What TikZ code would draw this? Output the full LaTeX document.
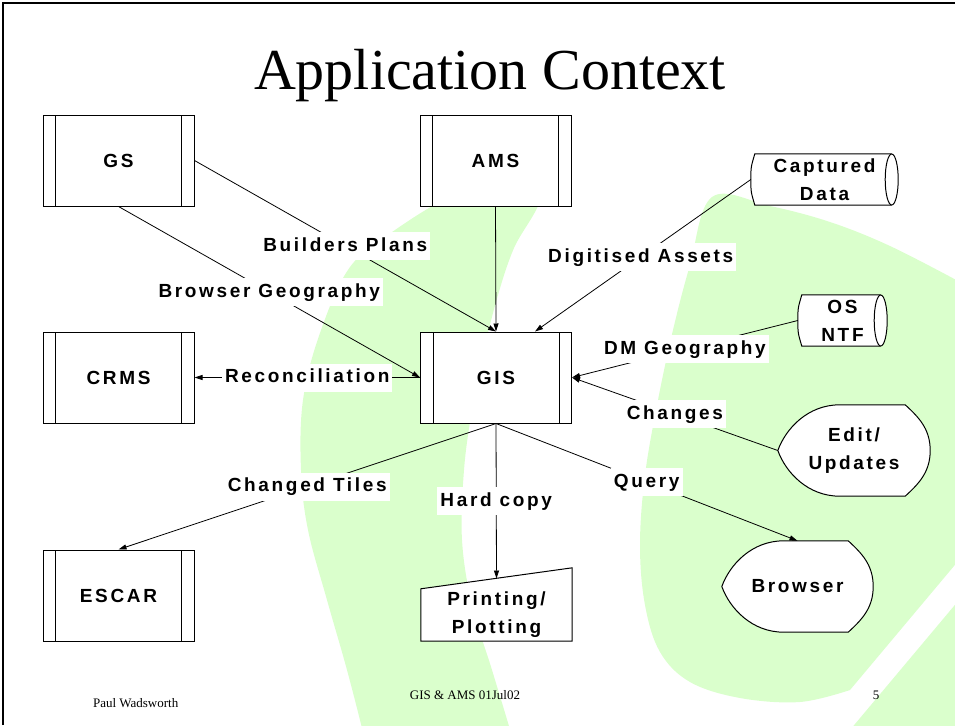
\documentclass[tikz,border=0pt]{standalone}
\usepackage{fontspec}
\setmainfont{Liberation Serif}
\newfontfamily\lblfont[LetterSpace=14]{Liberation Sans Bold}
\usetikzlibrary{arrows.meta,calc}
\definecolor{leaf}{RGB}{218,255,204}
\pgfdeclarelayer{tint}
\pgfdeclarelayer{outlines}
\pgfsetlayers{tint,outlines,main}

\begin{document}
\begin{tikzpicture}[x=1pt,y=-1pt,
  lbltext/.style={font=\lblfont\fontsize{19}{28}\selectfont, align=center},
  procbox/.style={draw, fill=white, line width=1pt, minimum width=151pt,
    minimum height=91pt, inner sep=0pt, lbltext,
    path picture={
      \draw[line width=1pt] ([xshift=12.5pt]path picture bounding box.north west)
        -- ([xshift=12.5pt]path picture bounding box.south west);
      \draw[line width=1pt] ([xshift=-12.5pt]path picture bounding box.north east)
        -- ([xshift=-12.5pt]path picture bounding box.south east);}},
  shapebox/.style={inner sep=0pt, lbltext},
  shapeline/.style={line width=1pt, draw=black},
  lbl/.style={fill=white, inner xsep=3pt, inner ysep=5pt, text height=14pt,
    text depth=4pt, lbltext},
  flow/.style={line width=0.8pt, -{Triangle[length=8pt,width=5pt]}}
]
\useasboundingbox (0,0) rectangle (955,725);

% pale green backdrop figure
\begin{pgfonlayer}{tint}
\begin{scope}
\clip (0,0) rectangle (955,725);
\fill[leaf] plot[smooth cycle, tension=0.6] coordinates {
  (452,196) (395,230) (350,267) (320,333) (303,400) (301,470) (308,530)
  (327,600) (347,670) (365,740) (372,770) (520,770) (513,740) (492,670)
  (472,605) (462,540) (464,470) (472,410) (484,350) (498,295) (514,248)
  (540,196) (500,185)};
\fill[leaf] plot[smooth, tension=0.6] coordinates {
  (850,690) (800,702) (740,698) (690,682) (660,652) (645,605) (640,545)
  (645,475) (658,400) (673,330) (690,265) (712,197) (770,206) (830,222)
  (890,246) (960,282)} -- (980,282) -- (980,535) -- cycle;
\fill[leaf] (980,575) -- (829,755) -- (980,755) -- cycle;
\end{scope}
\end{pgfonlayer}

% slide frame
\draw[line width=2.5pt] (3,725) -- (3,3) -- (955,3);

% title and footer
\node[font=\fontsize{58}{60}\selectfont, anchor=base] (title) at (490,89) {Application Context};
\node[font=\fontsize{13}{15}\selectfont, anchor=base west] (author) at (89.5,707) {Paul Wadsworth};
\node[font=\fontsize{13}{15}\selectfont, anchor=base] (slidetag) at (465,699) {GIS \& AMS 01Jul02};
\node[font=\fontsize{13}{15}\selectfont, anchor=base] (pageno) at (876,699) {5};

% process boxes
\node[procbox] (gs) at (118.5,160.5) {GS};
\node[procbox] (ams) at (495.5,160.5) {AMS};
\node[procbox] (crms) at (118.5,377.5) {CRMS};
\node[procbox] (gis) at (496,377.5) {GIS};
\node[procbox] (escar) at (118.5,595.5) {ESCAR};

% other symbols: text nodes sized to their outlines
\node[shapebox, minimum width=147pt, minimum height=51pt] (cap) at (824.5,179.5) {Captured\\Data};
\node[shapebox, minimum width=89pt, minimum height=51pt] (ntf) at (842.5,320.5) {OS\\NTF};
\node[shapebox, minimum width=152pt, minimum height=91pt] (edit) at (854,450.5) {Edit/\\Updates};
\node[shapebox, minimum width=151pt, minimum height=91pt] (browser) at (797.5,586.5) {Browser};
\node[shapebox, minimum width=151pt, minimum height=52pt] (print) at (496.5,615) {Printing/\\Plotting};

\begin{pgfonlayer}{outlines}
% stored data drums
\foreach \n in {cap,ntf} {
  \fill[white] ($(\n.north west)+(4,0)$) -- ($(\n.north east)+(-6.5,0)$)
    -- ($(\n.south east)+(-6.5,0)$) -- ($(\n.south west)+(4,0)$)
    .. controls ($(\n.west)+(0,12)$) .. (\n.west)
    .. controls ($(\n.west)+(0,-12)$) .. cycle;
  \draw[shapeline] ($(\n.north east)+(-6.5,0)$) -- ($(\n.north west)+(4,0)$)
    .. controls ($(\n.west)+(0,-12)$) .. (\n.west)
    .. controls ($(\n.west)+(0,12)$) .. ($(\n.south west)+(4,0)$)
    -- ($(\n.south east)+(-6.5,0)$);
  \filldraw[shapeline, fill=white] ($(\n.east)+(-6.5,0)$) ellipse [x radius=6.5, y radius=25.5];
}
% display symbols
\foreach \n in {edit,browser} {
  \filldraw[shapeline, fill=white] (\n.west)
    .. controls ($(\n.west)+(8,-22)$) and ($(\n.north west)+(30,0)$) .. ($(\n.north west)+(62,0)$)
    -- ($(\n.north east)+(-25,0)$)
    .. controls ($(\n.north east)+(-12,12)$) and ($(\n.east)+(0,-22)$) .. (\n.east)
    .. controls ($(\n.east)+(0,22)$) and ($(\n.south east)+(-12,-12)$) .. ($(\n.south east)+(-25,0)$)
    -- ($(\n.south west)+(62,0)$)
    .. controls ($(\n.south west)+(30,0)$) and ($(\n.west)+(8,22)$) .. cycle;
}
% manual input symbol
\filldraw[shapeline, fill=white] (print.north west) -- ($(print.north east)+(0,-21)$)
  -- (print.south east) -- (print.south west) -- cycle;
\end{pgfonlayer}

% data flows
\draw[flow] (gs.east) -- node[lbl]{Builders Plans} (gis.north);
\draw[flow] (ams.south) -- (gis.north);
\draw[flow] (gs.south) -- node[lbl]{Browser Geography} (gis.west);
\draw[flow] (gis.west) -- node[lbl]{Reconciliation} (crms.east);
\draw[flow] (cap.west) -- node[lbl,pos=0.51]{Digitised Assets} ([xshift=39pt]gis.north);
\draw[flow] (ntf.west) -- node[lbl]{DM Geography} (gis.east);
\draw[flow] (edit.west) -- node[lbl]{Changes} (gis.east);
\draw[flow] (gis.south) -- node[lbl]{Changed Tiles} (escar.north);
\draw[flow] (gis.south) -- node[lbl]{Hard copy} ([yshift=10.3pt]print.north);
\draw[flow] (gis.south) -- node[lbl]{Query} (browser.north);
\end{tikzpicture}
\end{document}
